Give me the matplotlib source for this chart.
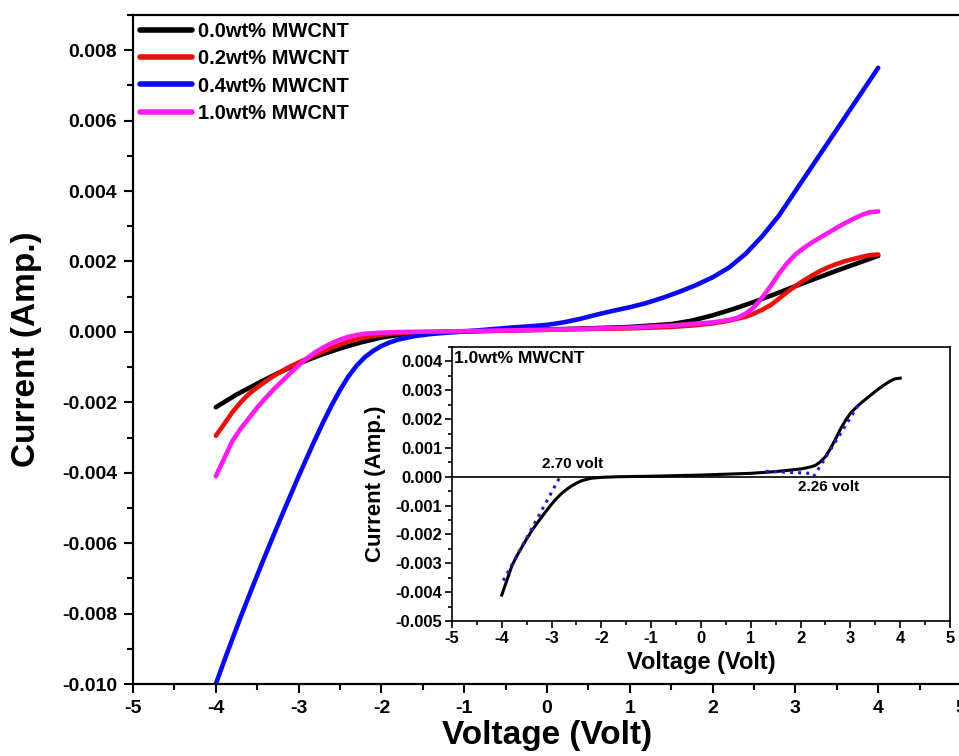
import matplotlib
matplotlib.use("Agg")
import matplotlib.pyplot as plt
from matplotlib.ticker import MultipleLocator, FormatStrFormatter

plt.rcParams['font.family'] = ['Liberation Sans', 'DejaVu Sans']
plt.rcParams['font.weight'] = 'bold'
plt.rcParams['axes.unicode_minus'] = False

# I-V data (volt, amp)
v_00 = [-4.0, -3.75, -3.5, -3.25, -3.0, -2.75, -2.5, -2.25, -2.0, -1.75, -1.5, -1.0, -0.5, 0.0,
        0.5, 1.0, 1.5, 1.75, 2.0, 2.25, 2.5, 2.75, 3.0, 3.25, 3.5, 3.75, 4.0]
i_00 = [-0.00214, -0.00178, -0.00147, -0.00117, -0.0009, -0.00067, -0.00047, -0.0003, -0.00016,
        -0.00007, -0.00002, 0.00001, 0.00004, 0.00007, 0.0001, 0.00014, 0.00022, 0.00032, 0.00047,
        0.00065, 0.00085, 0.00107, 0.0013, 0.00152, 0.00174, 0.00195, 0.00216]

v_02 = [-4.0, -3.9, -3.8, -3.7, -3.6, -3.5, -3.4, -3.3, -3.2, -3.1, -3.0, -2.8, -2.6, -2.4, -2.2,
        -2.0, -1.8, -1.5, -1.0, -0.5, 0.0, 0.5, 1.0, 1.5, 1.8, 2.0, 2.2, 2.4, 2.5, 2.6, 2.7, 2.8,
        2.9, 3.0, 3.1, 3.2, 3.3, 3.4, 3.5, 3.6, 3.7, 3.8, 3.9, 4.0]
i_02 = [-0.00295, -0.00262, -0.00228, -0.002, -0.00176, -0.00158, -0.00141, -0.00125, -0.00111,
        -0.00098, -0.00087, -0.00065, -0.00045, -0.00027, -0.00015, -0.00008, -0.00003, -0.00001,
        0.00002, 0.00004, 0.00006, 0.00008, 0.0001, 0.00014, 0.00019, 0.00024, 0.00032, 0.00043,
        0.00052, 0.00063, 0.00076, 0.00094, 0.00113, 0.0013, 0.00146, 0.0016, 0.00173, 0.00184,
        0.00193, 0.00201, 0.00207, 0.00213, 0.00218, 0.0022]

v_04 = [-4.0, -3.9, -3.8, -3.7, -3.6, -3.5, -3.4, -3.3, -3.2, -3.1, -3.0, -2.9, -2.8, -2.7, -2.6,
        -2.5, -2.4, -2.3, -2.2, -2.1, -2.0, -1.9, -1.8, -1.6, -1.4, -1.2, -1.0, -0.8, -0.6, -0.4,
        -0.2, 0.0, 0.2, 0.4, 0.6, 0.8, 1.0, 1.2, 1.4, 1.6, 1.8, 2.0, 2.2, 2.4, 2.6, 2.8, 3.0, 3.2,
        3.4, 3.6, 3.8, 4.0]
i_04 = [-0.0100, -0.00935, -0.00872, -0.0081, -0.0075, -0.00691, -0.00633, -0.00576, -0.0052,
        -0.00465, -0.0041, -0.00357, -0.00305, -0.00255, -0.00208, -0.00165, -0.00127, -0.00096,
        -0.00072, -0.00054, -0.0004, -0.0003, -0.00022, -0.00012, -0.00006, -0.00002, 0.00001,
        0.00005, 0.00009, 0.00013, 0.00016, 0.0002, 0.00027, 0.00037, 0.00049, 0.0006, 0.0007,
        0.00082, 0.00097, 0.00114, 0.00133, 0.00155, 0.00183, 0.00222, 0.00272, 0.0033, 0.0040,
        0.0047, 0.0054, 0.0061, 0.0068, 0.0075]

v_10 = [-4.0, -3.9, -3.8, -3.7, -3.6, -3.5, -3.4, -3.3, -3.2, -3.1, -3.0, -2.9, -2.8, -2.7, -2.6,
        -2.5, -2.4, -2.3, -2.2, -2.0, -1.7, -1.0, -0.5, 0.0, 0.5, 1.0, 1.5, 2.0, 2.2, 2.3, 2.4, 2.5,
        2.6, 2.7, 2.8, 2.9, 3.0, 3.1, 3.2, 3.3, 3.4, 3.5, 3.6, 3.7, 3.8, 3.9, 4.0]
i_10 = [-0.0041, -0.0036, -0.0031, -0.00275, -0.00245, -0.00215, -0.00188, -0.00163, -0.0014,
        -0.00117, -0.00095, -0.00075, -0.00058, -0.00044, -0.00032, -0.00022, -0.00014, -0.00009,
        -0.00005, -0.00002, 0.0, 0.00002, 0.00004, 0.00006, 0.00009, 0.00012, 0.00018, 0.00027,
        0.00034, 0.0004, 0.00052, 0.0007, 0.00098, 0.0013, 0.00165, 0.00195, 0.0022, 0.00238,
        0.00254, 0.00268, 0.00282, 0.00296, 0.00309, 0.00321, 0.00332, 0.0034, 0.00342]

labels = ['0.0wt% MWCNT', '0.2wt% MWCNT', '0.4wt% MWCNT', '1.0wt% MWCNT']
colors = ['black', '#e8120c', '#0a0af0', '#ff1cf0']

# tangent lines drawn in the inset
tan_left_v = [-3.97, -2.83]
tan_left_i = [-0.0036, 0.0]
tan_flat_v = [1.3, 2.2]
tan_flat_i = [0.00019, 0.00012]
tan_rise_v = [2.26, 3.2]
tan_rise_i = [0.0, 0.0026]

fig = plt.figure(figsize=(9.59, 7.56), dpi=100)
ax = fig.add_axes([0.1387, 0.0952, 0.8634, 0.885])

series = [(v_00, i_00), (v_02, i_02), (v_04, i_04), (v_10, i_10)]
for (v, i), lab, c in zip(series, labels, colors):
    ax.plot(v, i, color=c, lw=3.3, label=lab, solid_capstyle='round', solid_joinstyle='round')

ax.set_xlim(-5, 5)
ax.set_ylim(-0.010, 0.009)
ax.xaxis.set_major_locator(MultipleLocator(1))
ax.xaxis.set_minor_locator(MultipleLocator(0.5))
ax.yaxis.set_major_locator(MultipleLocator(0.002))
ax.yaxis.set_minor_locator(MultipleLocator(0.001))
ax.yaxis.set_major_formatter(FormatStrFormatter('%.3f'))
ax.tick_params(which='both', direction='out', top=False, right=False, width=1.5, labelsize=14)
ax.tick_params(which='major', length=6.5, pad=5)
ax.tick_params(which='minor', length=4)
for s in ax.spines.values():
    s.set_linewidth(1.6)
ax.set_xlabel('Voltage (Volt)', fontsize=24, fontweight='bold', labelpad=2)
ax.set_ylabel('Current (Amp.)', fontsize=24, fontweight='bold', labelpad=14)

leg = ax.legend(loc='upper left', frameon=False, fontsize=14.5, borderaxespad=0, borderpad=0.35,
                handlelength=2.6, handletextpad=0.3, labelspacing=0.41)
for h in leg.get_lines():
    h.set_linewidth(4)

# inset: 1.0wt% curve with tangent lines
ins = fig.add_axes([0.4713, 0.1786, 0.5193, 0.3624])
ins.plot(v_10, i_10, color='black', lw=2.2)
ins.axhline(0, color='black', lw=1.2)
ins.plot(tan_left_v, tan_left_i, color='#1a1adc', ls=':', lw=2.2)
ins.plot(tan_flat_v, tan_flat_i, color='#1a1adc', ls=':', lw=2.2)
ins.plot(tan_rise_v, tan_rise_i, color='#1a1adc', ls=':', lw=2.2)
ins.set_xlim(-5, 5)
ins.set_ylim(-0.005, 0.0045)
ins.xaxis.set_major_locator(MultipleLocator(1))
ins.xaxis.set_minor_locator(MultipleLocator(0.5))
ins.yaxis.set_major_locator(MultipleLocator(0.001))
ins.yaxis.set_minor_locator(MultipleLocator(0.0005))
ins.yaxis.set_major_formatter(FormatStrFormatter('%.3f'))
ins.tick_params(which='both', direction='out', top=False, right=False, width=1.2, labelsize=12)
ins.tick_params(which='major', length=5, pad=2)
ins.tick_params(which='minor', length=3)
for s in ins.spines.values():
    s.set_linewidth(1.2)
ins.set_xlabel('Voltage (Volt)', fontsize=17, fontweight='bold', labelpad=4)
ins.set_ylabel('Current (Amp.)', fontsize=16, fontweight='bold', labelpad=7)
ins.text(0.005, 0.985, '1.0wt% MWCNT', transform=ins.transAxes, ha='left', va='top',
         fontsize=12.5, fontweight='bold')
ins.text(-3.19, 0.00045, '2.70 volt', ha='left', va='center', fontsize=11, fontweight='bold')
ins.text(1.95, -0.00035, '2.26 volt', ha='left', va='center', fontsize=11, fontweight='bold')

fig.savefig('out.png', dpi=100)
